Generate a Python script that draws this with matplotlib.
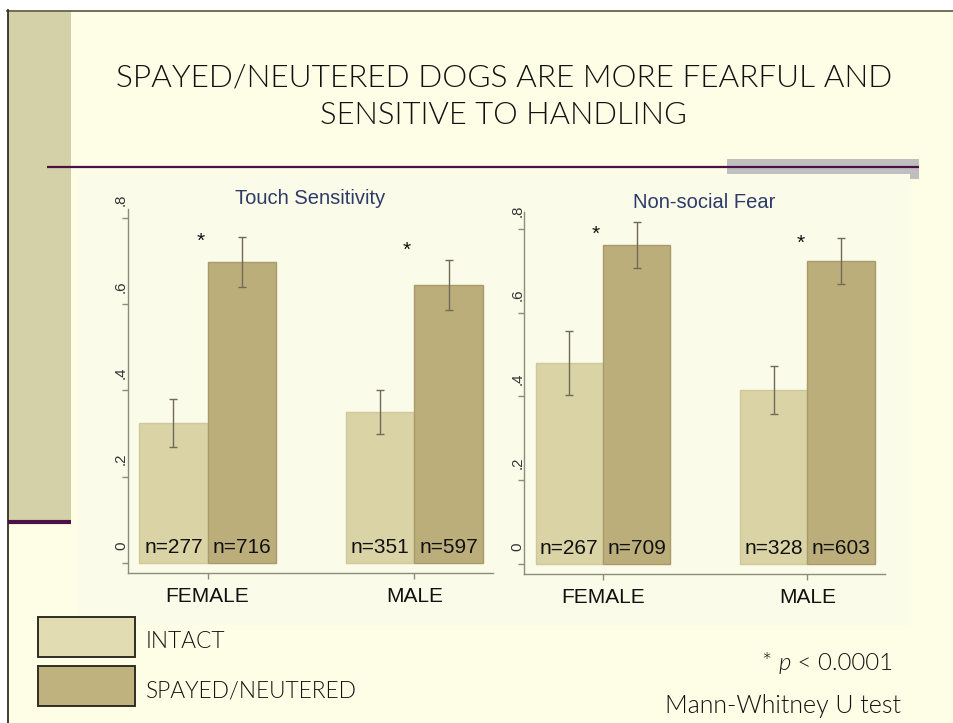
import matplotlib
matplotlib.use("Agg")
import matplotlib.pyplot as plt
from matplotlib.patches import Rectangle
from matplotlib.lines import Line2D
from matplotlib.transforms import ScaledTranslation

# ---------------- data ----------------
groups = ["FEMALE", "MALE"]
panel_titles = ["Touch Sensitivity", "Non-social Fear"]

touch_intact = [0.324, 0.350]
touch_intact_err = [0.055, 0.050]
touch_spayed = [0.697, 0.644]
touch_spayed_err = [0.057, 0.057]
touch_n_intact = [277, 351]
touch_n_spayed = [716, 597]
touch_star_height = [0.745, 0.725]

fear_intact = [0.480, 0.415]
fear_intact_err = [0.077, 0.058]
fear_spayed = [0.761, 0.723]
fear_spayed_err = [0.055, 0.055]
fear_n_intact = [267, 328]
fear_n_spayed = [709, 603]
fear_star_height = [0.787, 0.766]

ytick_values = [0, 0.2, 0.4, 0.6, 0.8]
ytick_labels = ["0", ".2", ".4", ".6", ".8"]

legend_labels = ["INTACT", "SPAYED/NEUTERED"]
title_lines = ["SPAYED/NEUTERED DOGS ARE MORE FEARFUL AND", "SENSITIVE TO HANDLING"]
pvalue_parts = ["* ", "p", " < 0.0001"]
test_label = "Mann-Whitney U test"

# ---------------- style ----------------
W, H = 954, 723
SLIDE_BG = "#fefee7"
GRAPH_BG = "#fafbe8"
BAND = "#d4d1a8"
PURPLE = "#4b1147"
INTACT_C = "#d9d3a6"
INTACT_E = "#cfc89b"
SPAYED_C = "#bcae7b"
SPAYED_E = "#a89a69"
ERR_C = "#6f6b58"
AX_C = "#8e8b79"
TITLE_C = "#2d3b69"
SANS = ["Liberation Sans", "DejaVu Sans"]
GOTHIC = ["Lato", "DejaVu Sans"]
GW = 300

fig = plt.figure(figsize=(W / 100, H / 100), dpi=100)
fig.patch.set_facecolor("white")
renderer = fig.canvas.get_renderer()


def fx(x):
    return x / W


def fy(y):
    return 1 - y / H


def prect(x0, y0, x1, y1, **kw):
    r = Rectangle((fx(x0), fy(y1)), (x1 - x0) / W, (y1 - y0) / H,
                  transform=fig.transFigure, **kw)
    fig.add_artist(r)
    return r


def pline(xs, ys, **kw):
    fig.add_artist(Line2D([fx(v) for v in xs], [fy(v) for v in ys],
                          transform=fig.transFigure, **kw))


def fit_text(x0, x1, base, s, family, **kw):
    t = fig.text(fx(x0), fy(base), s, fontsize=20, ha="left", va="baseline",
                 family=family, **kw)
    bb = t.get_window_extent(renderer)
    t.set_fontsize(20 * (x1 - x0) / bb.width)
    return t


def fit_parts(x0, x1, base, parts, styles, family, **kw):
    widths = []
    for s, st in zip(parts, styles):
        t = fig.text(0, 0, s.replace(" ", "\u00a0"), fontsize=20, family=family, style=st, **kw)
        widths.append(t.get_window_extent(renderer).width)
        t.remove()
    scale = (x1 - x0) / sum(widths)
    x = x0
    for s, st, w in zip(parts, styles, widths):
        fig.text(fx(x), fy(base), s.replace(" ", "\u00a0"), fontsize=20 * scale,
                 family=family, style=st, ha="left", va="baseline", **kw)
        x += w * scale


# ---------------- slide decoration ----------------
prect(8, 10, W, H, facecolor=SLIDE_BG, edgecolor="none", zorder=-5)
prect(8, 10, 71, 521, facecolor=BAND, edgecolor="none", zorder=-4)
prect(78, 174, 910, 625, facecolor=GRAPH_BG, edgecolor="none", zorder=-4)
pline([7, W], [10.5, 10.5], color="#66664e", lw=1.3, zorder=5)
pline([8, 8], [10, H], color="#2f2f25", lw=1.3, zorder=5)
pline([8, 71], [521.8, 521.8], color=PURPLE, lw=3.0, zorder=5, solid_capstyle="butt")
prect(727, 159, 919, 174, facecolor="#bfbfbf", edgecolor="none", zorder=-3)
prect(910, 174, 919, 179, facecolor="#bfbfbf", edgecolor="none", zorder=-3)
pline([47, 919], [166.5, 166.5], color=PURPLE, lw=1.6, zorder=5, solid_capstyle="butt")

# title
fit_text(116, 890, 86.7, title_lines[0], GOTHIC, weight=GW, color="#111111", zorder=6)
fit_text(320, 686, 123.7, title_lines[1], GOTHIC, weight=GW, color="#111111", zorder=6)

# ---------------- charts ----------------
panels = [
    dict(box=(128, 209, 493, 573.4), ylim=(-0.024, 0.82), title=panel_titles[0],
         title_y=199, intact=touch_intact, ierr=touch_intact_err, spayed=touch_spayed,
         serr=touch_spayed_err, ni=touch_n_intact, ns=touch_n_spayed,
         star=touch_star_height),
    dict(box=(524.3, 212, 885, 574), ylim=(-0.024, 0.84), title=panel_titles[1],
         title_y=202, intact=fear_intact, ierr=fear_intact_err, spayed=fear_spayed,
         serr=fear_spayed_err, ni=fear_n_intact, ns=fear_n_spayed,
         star=fear_star_height),
]

bw = 0.33
xs = list(range(len(groups)))
for p in panels:
    x0, y0, x1, y1 = p["box"]
    ax = fig.add_axes([fx(x0), fy(y1), (x1 - x0) / W, (y1 - y0) / H], zorder=2)
    ax.set_facecolor("none")
    ax.set_xlim(-0.385, 1.38)
    ax.set_ylim(*p["ylim"])
    xi = [x - bw / 2 for x in xs]
    xsp = [x + bw / 2 for x in xs]
    ax.bar(xi, p["intact"], bw, color=INTACT_C, edgecolor=INTACT_E, lw=1, zorder=2)
    ax.bar(xsp, p["spayed"], bw, color=SPAYED_C, edgecolor=SPAYED_E, lw=1, zorder=2)
    ax.errorbar(xi, p["intact"], yerr=p["ierr"], fmt="none", ecolor=ERR_C,
                elinewidth=1.0, capsize=2.6, capthick=1.0, zorder=3)
    ax.errorbar(xsp, p["spayed"], yerr=p["serr"], fmt="none", ecolor=ERR_C,
                elinewidth=1.0, capsize=2.6, capthick=1.0, zorder=3)
    for i in range(len(groups)):
        ax.text(xi[i], 0.036, f"n={p['ni'][i]}", ha="center", va="center",
                fontsize=15, family=SANS, color="#111111", zorder=4)
        ax.text(xsp[i], 0.036, f"n={p['ns'][i]}", ha="center", va="center",
                fontsize=15, family=SANS, color="#111111", zorder=4)
        ax.text(xs[i] - 0.035, p["star"][i], "*", ha="center", va="center",
                fontsize=15, family=SANS, color="#111111", zorder=4)
    for s in ["top", "right"]:
        ax.spines[s].set_visible(False)
    for s in ["left", "bottom"]:
        ax.spines[s].set_color(AX_C)
        ax.spines[s].set_linewidth(1.0)
    ax.set_xticks(xs)
    ax.set_xticklabels(groups, fontsize=15, family=SANS, color="#111111")
    ax.tick_params(axis="x", length=4.3, width=1, color=AX_C, pad=5.5)
    ax.set_yticks(ytick_values)
    ax.set_yticklabels(ytick_labels, rotation=90, fontsize=10.8, family=SANS,
                       color="#333333", ha="right", va="center")
    ax.tick_params(axis="y", length=4.3, width=1, color=AX_C, pad=-4.3)
    off = ScaledTranslation(0, 0.175, fig.dpi_scale_trans)
    for lab in ax.get_yticklabels():
        lab.set_transform(lab.get_transform() + off)
    fig.text(fx((x0 + x1) / 2), fy(p["title_y"]), p["title"], fontsize=14.5,
             family=SANS, color=TITLE_C, ha="center", va="center", zorder=6)

# ---------------- legend ----------------
prect(38.3, 617, 135, 657, facecolor="#e1dcb1", edgecolor="#2e2e24", lw=1.4, zorder=6)
prect(38.3, 665.7, 135, 705.7, facecolor="#bfb27f", edgecolor="#2e2e24", lw=1.4, zorder=6)
fit_text(146, 226, 647.7, legend_labels[0], GOTHIC, weight=GW, color="#111111", zorder=6)
fit_text(146, 357, 697.5, legend_labels[1], GOTHIC, weight=GW, color="#111111", zorder=6)

fit_parts(762, 893, 670, pvalue_parts, ["normal", "italic", "normal"], GOTHIC,
          weight=GW, color="#111111", zorder=6)
fit_text(665, 902, 713, test_label, GOTHIC, weight=GW, color="#111111", zorder=6)

fig.savefig("out.png", dpi=100, facecolor=fig.get_facecolor())
